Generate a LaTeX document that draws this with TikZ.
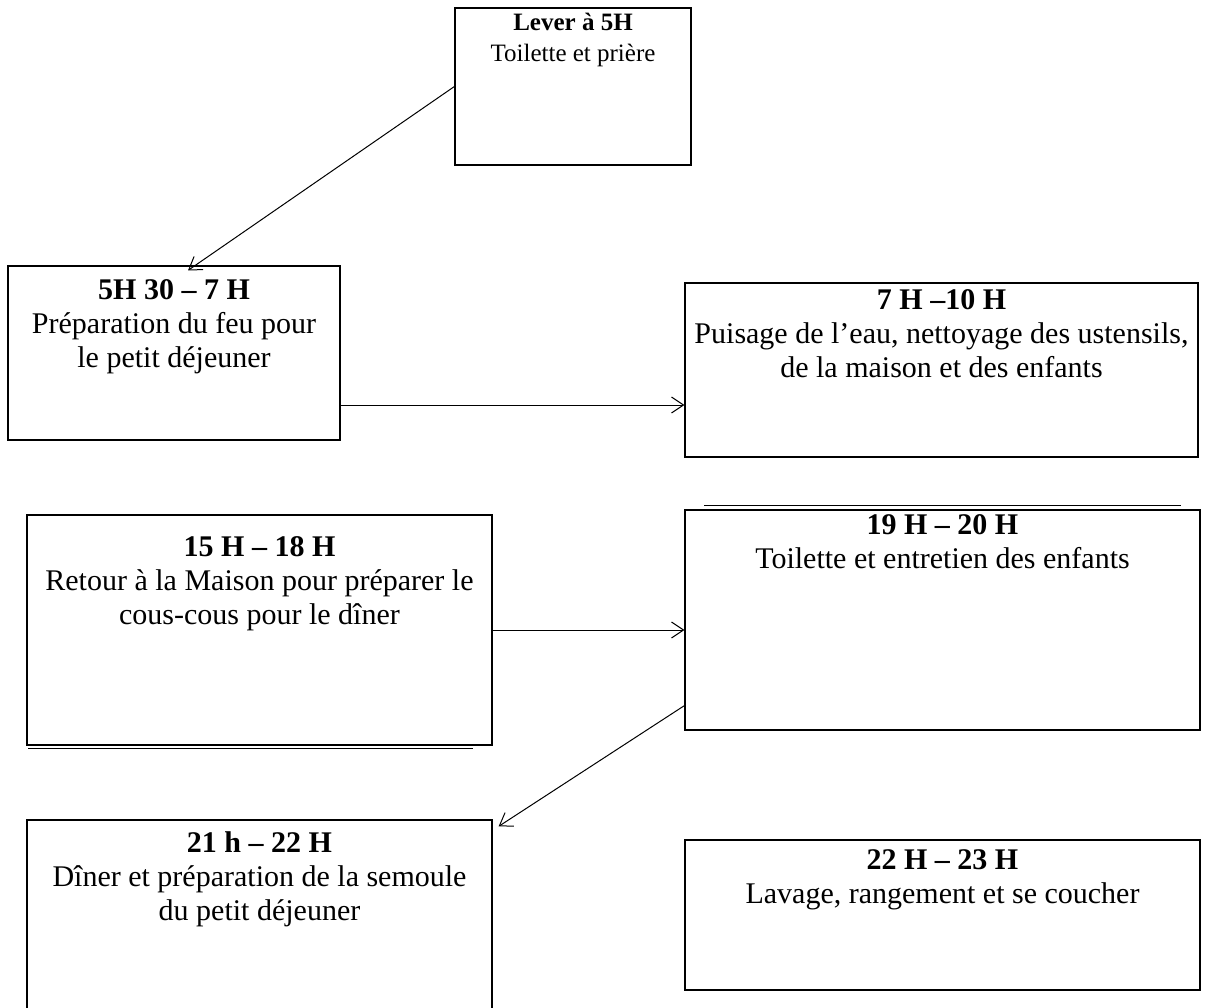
\documentclass[tikz,border=0pt]{standalone}
\usepackage{fontspec}
\setmainfont{Liberation Serif}
\usepackage{tikz}
\usetikzlibrary{arrows.meta, positioning, calc}

\begin{document}
\begin{tikzpicture}[x=1pt, y=-1pt,
            slot/.style={rectangle, draw=black, line width=1.2pt, inner sep=0pt},
            slottext/.style={align=center, inner sep=0pt, font=\fontsize{30}{34}\selectfont},
            flow/.style={line width=1pt, -{Straight Barb[length=12pt, width=16pt, line width=1pt]}}
        ]
            \useasboundingbox (0,0) rectangle (1223,1008);

            % Boxes
            \node[slot, minimum width=236pt, minimum height=157pt] (lever) at (573,86.5) {};
            \node[slot, minimum width=332pt, minimum height=174pt] (feu) at (174,353) {};
            \node[slot, minimum width=513pt, minimum height=174pt] (eau) at (941.5,370) {};
            \node[slot, minimum width=465pt, minimum height=230pt] (couscous) at (259.5,630) {};
            \node[slot, minimum width=515pt, minimum height=220pt] (enfants) at (942.5,620) {};
            \node[slot, minimum width=465pt, minimum height=200pt] (diner) at (259.5,920) {};
            \node[slot, minimum width=515pt, minimum height=150pt] (coucher) at (942.5,915) {};

            % doubled edges
            \draw[line width=1.4pt] ([xshift=2pt,yshift=-3pt]couscous.south west) -- ([xshift=-20pt,yshift=-3pt]couscous.south east);
            \draw[line width=1.4pt] ([xshift=20pt,yshift=4pt]enfants.north west) -- ([xshift=-20pt,yshift=4pt]enfants.north east);

            % Texts
            \node[slottext, font=\fontsize{25}{31}\selectfont, below=6pt of lever.north] (leverT) {\textbf{Lever à 5H}\\Toilette et prière};
            \node[slottext, below=14pt of feu.north] (feuT) {\textbf{5H 30 – 7 H}\\Préparation du feu pour\\le petit déjeuner};
            \node[slottext, below=7pt of eau.north] (eauT) {\textbf{7 H –10 H}\\Puisage de l’eau, nettoyage des ustensils,\\de la maison et des enfants};
            \node[slottext, below=22pt of couscous.north] (couscousT) {\textbf{15 H – 18 H}\\Retour à la Maison pour préparer le\\cous-cous pour le dîner};
            \node[slottext, below=5pt of enfants.north] (enfantsT) {\textbf{19 H – 20 H}\\Toilette et entretien des enfants};
            \node[slottext, below=12pt of diner.north] (dinerT) {\textbf{21 h – 22 H}\\Dîner et préparation de la semoule\\du petit déjeuner};
            \node[slottext, below=10pt of coucher.north] (coucherT) {\textbf{22 H – 23 H}\\Lavage, rangement et se coucher};

            % Connections
            \draw[flow] (lever.west) -- ([xshift=14pt,yshift=-5pt]feu.north);
            \draw[flow] ($(feu.east)+(0,52)$) -- ($(eau.west)+(0,35)$);
            \draw[flow] (couscous.east) -- (couscous.east -| enfants.west);
            \draw[flow] ([yshift=25pt]enfants.south west) -- ([xshift=6pt,yshift=-7pt]diner.north east);
        \end{tikzpicture}
\end{document}
